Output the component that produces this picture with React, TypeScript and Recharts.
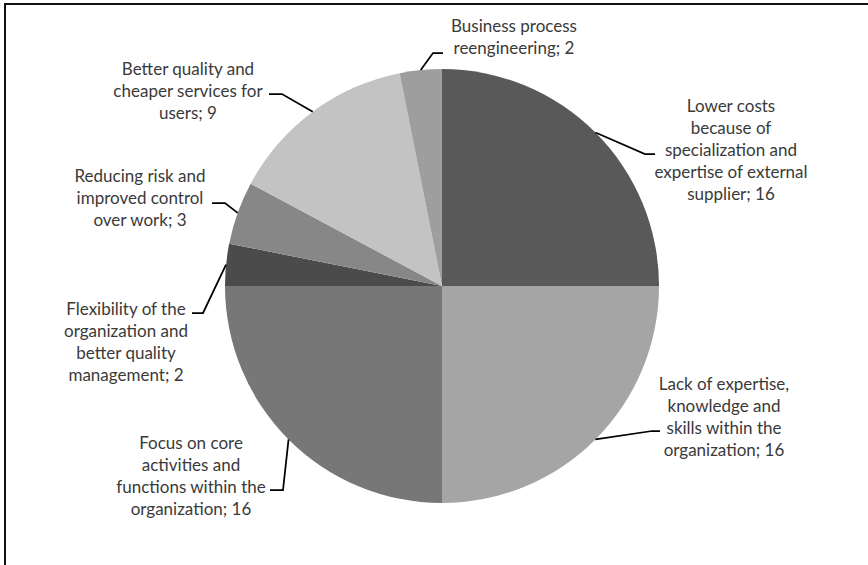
import { Cell, Pie, PieChart } from 'recharts';

const NAMES = [
  'Lower costs because of specialization and expertise of external supplier',
  'Lack of expertise, knowledge and skills within the organization',
  'Focus on core activities and functions within the organization',
  'Flexibility of the organization and better quality management',
  'Reducing risk and improved control over work',
  'Better quality and cheaper services for users',
  'Business process reengineering',
];
const VALUES = [16, 16, 16, 2, 3, 9, 2];
const LABEL_LINES = [
  ['Lower costs', 'because of', 'specialization and', 'expertise of external', 'supplier; 16'],
  ['Lack of expertise,', 'knowledge and', 'skills within the', 'organization; 16'],
  ['Focus on core', 'activities and', 'functions within the', 'organization; 16'],
  ['Flexibility of the', 'organization and', 'better quality', 'management; 2'],
  ['Reducing risk and', 'improved control', 'over work; 3'],
  ['Better quality and', 'cheaper services for', 'users; 9'],
  ['Business process', 'reengineering; 2'],
];

const COLORS = ['#595959', '#a5a5a5', '#777777', '#4b4b4b', '#878787', '#c3c3c3', '#9e9e9e'];

// label placement relative to pie centre: elbow, line end, text centre x, first line y
const LABEL_LAYOUT = [
  { elbow: [203, -132], end: [213, -132], tx: 289, ty: -181 },
  { elbow: [210, 145], end: [218, 145], tx: 282, ty: 97 },
  { elbow: [-159, 204], end: [-172, 204], tx: -251, ty: 156 },
  { elbow: [-239, 27], end: [-250, 27], tx: -316, ty: 22 },
  { elbow: [-217, -83], end: [-230, -83], tx: -302, ty: -111 },
  { elbow: [-160, -192], end: [-173, -192], tx: -254, ty: -218 },
  { elbow: [-9, -233], end: [1, -233], tx: 72, ty: -261 },
];

const LINE_HEIGHT = 22;
const RAD = Math.PI / 180;

const data = NAMES.map((name, i) => ({ name, value: VALUES[i] }));

function renderLabel(props: any) {
  const { cx, cy, midAngle, outerRadius, index } = props;
  const layout = LABEL_LAYOUT[index];
  const sx = cx + outerRadius * Math.cos(-midAngle * RAD);
  const sy = cy + outerRadius * Math.sin(-midAngle * RAD);
  const points = [
    [sx, sy],
    [cx + layout.elbow[0], cy + layout.elbow[1]],
    [cx + layout.end[0], cy + layout.end[1]],
  ]
    .map((p) => p.join(','))
    .join(' ');
  return (
    <g key={`label-${index}`}>
      <polyline points={points} fill="none" stroke="#000" strokeWidth={1.75} />
      <text
        x={cx + layout.tx}
        y={cy + layout.ty}
        textAnchor="middle"
        dominantBaseline="central"
        fill="#3a3a3a"
        fontSize={17}
        fontFamily="Lato, 'Noto Sans', sans-serif"
      >
        {LABEL_LINES[index].map((line, i) => (
          <tspan key={i} x={cx + layout.tx} y={cy + layout.ty + i * LINE_HEIGHT}>
            {line}
          </tspan>
        ))}
      </text>
    </g>
  );
}

export default function App() {
  return (
    <div style={{ position: 'absolute', left: 0, top: 0, width: 868, height: 565 }}>
      <div
        style={{
          position: 'absolute',
          left: 4,
          top: 3,
          width: 864,
          height: 562,
          borderLeft: '2px solid #111',
          borderTop: '2px solid #111',
        }}
      />
      <PieChart
        width={868}
        height={565}
        margin={{ top: 0, right: 0, bottom: 0, left: 0 }}
        style={{ position: 'absolute', left: 0, top: 0 }}
      >
        <Pie
          data={data}
          dataKey="value"
          nameKey="name"
          cx={442}
          cy={286}
          outerRadius={217}
          startAngle={90}
          endAngle={-270}
          stroke="none"
          label={renderLabel}
          labelLine={false}
          isAnimationActive={false}
        >
          {data.map((_, index) => (
            <Cell key={index} fill={COLORS[index]} />
          ))}
        </Pie>
      </PieChart>
    </div>
  );
}
